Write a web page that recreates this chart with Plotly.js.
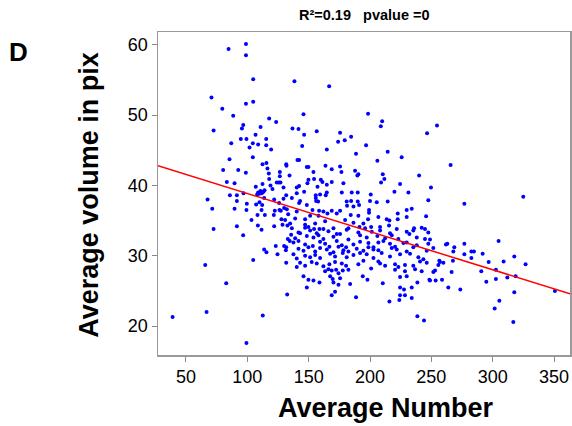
<!DOCTYPE html>
<html>
<head>
<meta charset="utf-8">
<script src="https://cdn.plot.ly/plotly-3.0.1.min.js"></script>
<style>html,body{margin:0;padding:0;background:#fff;}#chart{width:572px;height:426px;}</style>
</head>
<body>
<div id="chart"></div>
<script>
// Scatter data: Average Number (x) vs Average volume in pix (y)
const avgNumber = [
84.7,98.9,98.9,104.8,70.8,98.9,104.8,79.6,88.5,117.8,123.5,96.7,95.6,110.8,
138.4,166.7,145.8,198.4,209.9,208.8,254.6,246.5,136.8,141.7,
72.5,94.7,99.3,106.7,115.4,86.9,101.8,104.5,108.8,115.4,119.4,85.5,104.5,112.4,115.6,116.4,131.7,131.9,80.3,92.6,98.8,117.5,126.5,126.5,134.4,117.8,83.3,89.6,112.4,124.0,125.7,127.0,118.9,120.5,129.5,106.9,114.0,110.7,108.8,96.9,85.8,91.5,108.0,109.7,111.8,113.2,131.7,67.6,91.5,109.9,113.7,121.9,129.5,99.6,107.2,112.1,125.9,130.0,71.4,89.6,99.3,111.6,122.4,126.2,127.3,132.2,121.6,114.3,133.3,108.3,103.4,127.8,130.8,108.6,91.5,111.6,121.9,128.7,132.7,72.5,96.6,133.0,
134.6,123.2,130.0,131.7,131.4,113.7,115.6,124.6,104.8,131.7,65.7,82.8,132.5,66.8,39.1,112.6,99.3,
146.3,156.6,175.6,184.6,179.4,174.0,144.7,164.8,196.8,188.6,214.4,206.0,225.8,140.9,142.2,148.5,149.8,163.7,168.8,175.6,153.9,187.8,176.7,190.5,189.7,210.4,211.7,240.0,149.8,154.4,159.9,161.2,168.8,140.3,142.2,149.0,157.2,164.8,178.3,209.0,224.5,146.3,140.3,155.8,159.3,164.8,163.9,177.0,185.1,190.0,200.6,219.9,231.3,136.3,155.8,156.1,157.7,143.0,142.2,148.5,181.0,184.6,190.0,200.0,205.5,214.4,247.5,186.5,191.1,181.3,175.6,168.8,199.2,162.0,158.5,153.1,140.3,229.9,234.0,139.0,147.1,151.2,158.0,165.3,172.9,184.3,190.5,199.2,206.8,213.6,215.8,222.6,222.6,229.9,245.7,134.9,147.1,149.8,155.3,163.4,179.7,186.5,194.6,198.4,191.4,200.9,208.2,215.5,235.9,244.8,170.2,182.4,158.8,154.4,
136.3,141.7,147.1,151.2,156.6,162.0,166.1,172.9,181.0,190.5,196.0,201.4,208.2,216.3,221.8,229.9,235.3,242.1,247.5,
135.7,139.0,143.0,148.5,153.9,158.0,162.0,170.2,175.6,182.4,191.9,197.3,206.0,212.3,217.7,223.1,232.1,238.1,244.8,
137.6,141.7,147.1,153.4,159.3,163.4,166.9,172.9,177.0,180.5,186.5,191.9,198.7,202.8,206.8,210.9,216.3,220.4,227.2,229.9,238.1,247.5,
141.7,145.8,149.8,155.3,159.3,164.8,170.2,174.3,178.3,182.4,189.2,194.6,198.7,202.8,206.8,217.7,221.8,229.9,235.3,246.2,
137.6,140.3,147.1,151.2,155.3,159.3,167.5,171.5,177.8,181.0,186.5,191.9,197.3,202.8,209.5,216.3,224.5,232.6,239.4,243.5,
140.3,143.0,147.1,152.5,156.6,162.0,166.9,171.5,177.0,180.5,190.5,194.6,206.8,208.2,212.3,220.4,223.1,228.5,235.3,240.8,246.2,
163.4,166.1,168.8,172.4,174.3,177.8,182.4,200.9,220.4,228.5,236.7,242.1,
145.8,149.8,153.9,158.8,167.5,169.6,175.6,194.1,197.9,224.5,229.9,238.6,248.4,
148.5,170.2,171.5,174.3,183.8,210.4,224.5,227.7,234.0,
168.8,188.6,215.8,224.5,228.5,234.0,223.9,238.6,244.0,
248.9,251.6,261.9,263.0,268.7,276.9,304.8,267.9,276.9,282.6,284.7,291.8,256.5,257.0,255.7,259.8,267.6,282.6,317.6,308.9,296.7,326.8,253.0,251.6,266.5,290.7,302.6,248.9,253.5,258.7,263.8,273.6,294.8,302.6,311.9,318.7,350.7,317.6,305.4,301.6,316.8,
265.7,249.7,324.9,276.9
];
const avgVolume = [
59.4,60.1,58.5,55.1,52.5,51.6,51.9,50.9,49.9,49.5,49.0,48.6,48.1,48.3,
54.8,54.1,50.1,50.2,49.1,48.4,48.5,47.4,48.1,48.0,
47.8,46.6,46.6,47.2,46.6,46.0,45.4,46.0,45.8,45.7,45.1,43.7,44.0,43.0,43.2,42.4,43.0,42.8,42.2,42.2,41.8,41.7,41.9,41.3,41.4,40.9,40.5,40.3,40.2,40.4,40.4,40.4,40.0,39.5,39.7,39.8,39.3,39.2,39.0,38.9,38.6,38.6,38.7,38.8,38.9,39.1,38.6,38.0,37.8,37.6,38.2,38.0,38.1,37.4,37.3,37.2,37.5,36.8,36.7,36.7,36.5,36.5,36.4,36.5,36.4,36.6,35.8,35.8,35.9,35.8,35.1,35.2,35.1,34.3,34.2,33.7,34.2,34.4,34.3,33.8,32.9,32.4,
32.1,31.4,31.4,31.2,30.8,30.9,30.5,30.2,29.4,29.0,28.7,26.1,24.5,22.0,21.3,21.5,17.6,
47.2,47.7,47.5,46.9,46.4,46.2,45.6,45.1,45.7,44.5,44.8,43.5,44.0,43.6,43.6,42.6,42.6,42.8,42.3,42.7,41.9,42.1,41.9,41.6,41.4,41.6,40.9,41.4,40.8,40.9,40.8,40.5,40.5,39.7,39.9,40.3,39.8,40.1,40.3,40.4,40.2,39.1,38.9,38.6,38.7,39.0,38.6,39.0,39.0,39.0,38.7,39.1,39.0,38.2,38.2,37.8,37.7,37.8,37.5,37.2,37.7,37.8,37.7,37.8,37.6,37.7,37.9,37.0,37.2,37.1,36.4,36.4,36.5,36.3,36.4,36.5,36.3,36.5,36.7,35.3,35.2,35.7,35.7,36.0,36.0,35.8,35.7,36.1,35.5,35.2,35.0,36.0,35.2,35.5,35.6,34.6,34.4,34.1,34.6,34.9,35.1,34.7,34.6,35.2,34.1,34.1,34.1,34.3,33.9,33.8,33.9,33.9,33.8,33.8,
33.9,33.3,34.0,33.6,33.2,33.8,33.5,33.1,33.7,33.3,33.9,33.4,33.6,33.2,33.8,33.4,33.6,34.0,33.3,
33.0,32.5,33.2,32.8,32.6,32.9,32.4,32.7,33.1,32.3,32.9,32.6,32.8,32.5,32.9,32.4,33.1,32.6,32.4,
31.9,32.1,31.6,31.4,32.0,31.7,31.3,32.1,31.5,31.2,31.6,32.0,31.8,31.2,31.9,32.1,31.7,31.3,31.8,31.9,31.5,31.7,
31.0,30.7,31.2,30.6,31.1,30.9,30.5,31.3,30.8,30.6,31.0,30.7,31.2,30.9,30.8,31.1,30.9,30.6,31.2,30.7,
30.2,29.6,30.0,29.8,30.1,29.7,30.3,29.9,30.4,29.8,30.1,30.4,30.2,29.7,30.4,29.9,30.2,30.3,29.8,29.5,
28.4,29.0,28.6,29.1,28.9,28.5,28.8,29.1,28.9,28.6,28.8,29.3,29.2,28.9,28.6,28.8,28.4,28.7,28.6,29.2,29.0,
27.8,28.1,27.9,28.0,27.5,27.9,28.0,28.2,28.0,27.8,28.1,27.8,
27.1,26.6,26.5,26.2,27.1,26.7,26.8,27.1,26.6,27.0,27.1,26.2,26.6,
25.5,26.2,24.9,25.9,26.0,26.1,25.5,25.2,25.5,
24.4,24.1,23.5,24.4,24.4,24.0,23.7,21.4,20.8,
32.3,31.1,31.6,31.7,31.2,31.7,32.1,30.6,30.2,30.6,30.6,30.3,29.3,29.1,28.7,29.0,29.3,29.7,29.9,29.2,29.1,28.8,27.9,27.7,27.7,27.8,28.0,26.5,26.5,26.6,25.5,25.2,26.3,26.7,26.9,27.1,25.0,24.8,23.6,22.5,20.6,
42.9,39.7,38.4,37.4
];
// Regression line end points
const fitX = [27.2, 363];
const fitY = [42.8, 24.6];
const xTicks = [50, 100, 150, 200, 250, 300, 350];
const yTicks = [20, 30, 40, 50, 60];
const xRange = [27.2, 363];
const yRange = [15.9, 61.8];

const FONT = 'Liberation Sans, Arial, sans-serif';

const traces = [
  {x: avgNumber, y: avgVolume, type: 'scatter', mode: 'markers',
   marker: {color: '#0000ff', size: 4}, hoverinfo: 'x+y', showlegend: false},
  {x: fitX, y: fitY, type: 'scatter', mode: 'lines',
   line: {color: '#ff0000', width: 1.5}, showlegend: false}
];

const axisCommon = {
  ticks: 'outside', ticklen: 5, tickwidth: 1, tickcolor: '#888',
  showline: true, mirror: true, linecolor: '#999', linewidth: 1.5,
  showgrid: false, zeroline: false,
  tickfont: {family: FONT, size: 18, color: '#000'}
};

const layout = {
  width: 572, height: 426,
  margin: {l: 158, r: 2, t: 32, b: 71, pad: 0},
  paper_bgcolor: '#fff', plot_bgcolor: '#fff',
  font: {family: FONT, color: '#000'},
  xaxis: Object.assign({}, axisCommon, {range: xRange, tickmode: 'array', tickvals: xTicks, ticktext: xTicks.map(String)}),
  yaxis: Object.assign({}, axisCommon, {range: yRange, tickmode: 'array', tickvals: yTicks, ticktext: yTicks.map(String)}),
  annotations: [
    {text: '<b>R²=0.19\u00a0\u00a0\u00a0pvalue =0</b>', xref: 'paper', yref: 'paper', x: 0.5, y: 1.0526,
     xanchor: 'center', yanchor: 'middle', showarrow: false, font: {family: FONT, size: 14.5, color: '#000'}},
    {text: '<b>D</b>', xref: 'paper', yref: 'paper', x: -0.3398, y: 0.938,
     xanchor: 'center', yanchor: 'middle', showarrow: false, font: {family: FONT, size: 26, color: '#000'}},
    {text: '<b>Average volume in pix</b>', xref: 'paper', yref: 'paper', x: -0.168, y: 0.4954, textangle: -90,
     xanchor: 'center', yanchor: 'middle', showarrow: false, font: {family: FONT, size: 27, color: '#000'}},
    {text: '<b>Average Number</b>', xref: 'paper', yref: 'paper', x: 0.5534, y: -0.164,
     xanchor: 'center', yanchor: 'middle', showarrow: false, font: {family: FONT, size: 27, color: '#000'}}
  ]
};

Plotly.newPlot('chart', traces, layout, {staticPlot: true, displayModeBar: false});
</script>
</body>
</html>
